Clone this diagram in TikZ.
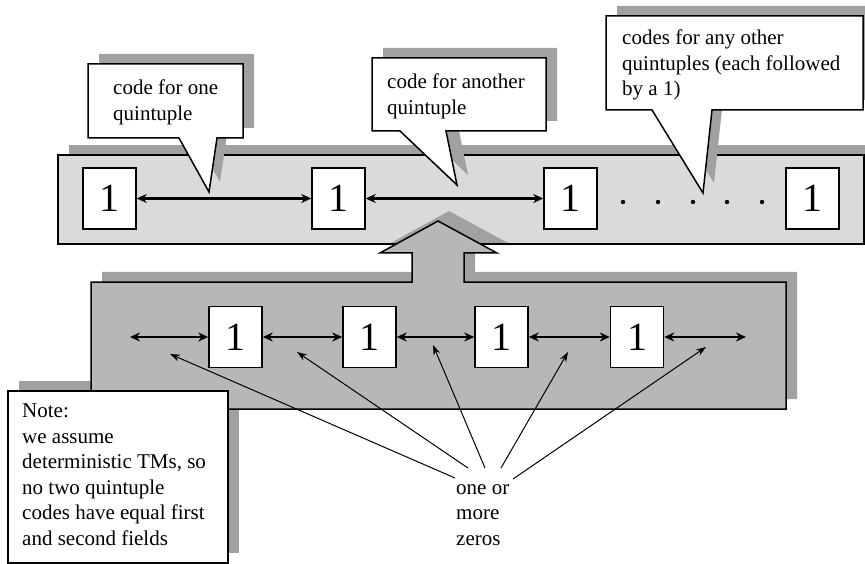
\documentclass[tikz,border=0pt]{standalone}
\usepackage{fontspec}
\setmainfont{Liberation Serif}
\usepackage{tikz}
\usetikzlibrary{arrows.meta, calc}

\definecolor{bandgray}{HTML}{D9DBDA}
\definecolor{panelgray}{HTML}{B6B7B6}
\definecolor{shadegray}{HTML}{A1A1A1}

\tikzstyle{onebox} = [rectangle, draw=black, fill=white, line width=1.5pt, minimum width=53pt, minimum height=61pt, inner sep=0pt, font=\fontsize{40}{40}\selectfont]
\tikzstyle{linkarrow} = [line width=2.5pt, {Stealth[length=10pt,width=9pt]}-{Stealth[length=10pt,width=9pt]}]
\tikzstyle{zeroarrow} = [line width=1pt, -{Stealth[length=10pt,width=7pt]}]
\tikzstyle{rim} = [draw=black, line width=1.5pt]
\tikzstyle{calltext} = [anchor=north west, inner sep=0pt, align=left, font=\fontsize{21}{25.5}\selectfont]

\begin{document}
\begin{tikzpicture}[x=1pt, y=-1pt]
    \useasboundingbox (0,0) rectangle (865,564);

    % upper tape
    \fill[shadegray] (69,145) rectangle (876,234);
    \draw[rim, fill=bandgray] (58,155) rectangle (864,244);

    % shadow of the note (it sits behind the lower panel)
    \fill[shadegray] (19,381) rectangle (239,553);

    % lower panel with the arrow going up
    \fill[shadegray, shift={(11,-10)}] (91,282) -- (412,282) -- (412,253) -- (380,253) -- (438,221) -- (497,253) -- (464,253) -- (464,282) -- (786,282) -- (786,409) -- (91,409) -- cycle;
    \draw[rim, fill=panelgray] (91,282) -- (412,282) -- (412,253) -- (380,253) -- (438,221) -- (497,253) -- (464,253) -- (464,282) -- (786,282) -- (786,409) -- (91,409) -- cycle;

    % callouts
    \fill[shadegray, shift={(11,-10)}] (88,64) -- (243,64) -- (243,138) -- (217,138) -- (209,192) -- (179,138) -- (88,138) -- cycle;
    \draw[rim, fill=white] (88,64) -- (243,64) -- (243,138) -- (217,138) -- (209,192) -- (179,138) -- (88,138) -- cycle;
    \fill[shadegray, shift={(11,-10)}] (372,58) -- (546,58) -- (546,131) -- (446,131) -- (457,185) -- (400,131) -- (372,131) -- cycle;
    \draw[rim, fill=white] (372,58) -- (546,58) -- (546,131) -- (446,131) -- (457,185) -- (400,131) -- (372,131) -- cycle;
    \fill[shadegray, shift={(11,-10)}] (606,16) -- (863,16) -- (863,110) -- (712,110) -- (703,193) -- (652,110) -- (606,110) -- cycle;
    \draw[rim, fill=white] (606,16) -- (863,16) -- (863,110) -- (712,110) -- (703,193) -- (652,110) -- (606,110) -- cycle;

    \node (cone) [calltext] at (113,80) {code for one\\quintuple};
    \node (ctwo) [calltext] at (387,74) {code for another\\quintuple};
    \node (cthree) [calltext] at (622,30) {codes for any other\\quintuples (each followed\\by a 1)};

    % the quintuple codes, each ended by a 1
    \node (t1) [onebox] at (109.5,198.5) {1};
    \node (t2) [onebox] at (338.5,198.5) {1};
    \node (t3) [onebox] at (570.5,198.5) {1};
    \node (t4) [onebox] at (812.5,198.5) {1};
    \draw [linkarrow] (t1) -- (t2);
    \draw [linkarrow] (t2) -- (t3);
    \foreach \x in {623,658,693,727,762}
        \fill (\x,202) circle (2.2);

    % one code, its fields split by 1s
    \coordinate (zl) at (130,337);
    \coordinate (zr) at (746,337);
    \node (b1) [onebox] at (235.5,337) {1};
    \node (b2) [onebox] at (369.5,337) {1};
    \node (b3) [onebox] at (501.5,337) {1};
    \node (b4) [onebox] at (637,337) {1};
    \draw [linkarrow] (zl) -- (b1);
    \draw [linkarrow] (b1) -- (b2);
    \draw [linkarrow] (b2) -- (b3);
    \draw [linkarrow] (b3) -- (b4);
    \draw [linkarrow] (b4) -- (zr);

    % note box
    \draw[rim, fill=white] (8,391) rectangle (228,563);
    \node (nb) [calltext] at (22,404) {Note:\\we assume\\deterministic TMs, so\\no two quintuple\\codes have equal first\\and second fields};

    % zeros label and its pointers
    \node (zeros) [calltext] at (456,484) {one or\\more\\zeros};
    \coordinate (s1) at (455,478);
    \coordinate (s2) at (468,468);
    \coordinate (s3) at (485,468);
    \coordinate (s4) at (501,468);
    \coordinate (s5) at (513,479);
    \coordinate (e1) at (170,354);
    \coordinate (e2) at (297,352);
    \coordinate (e3) at (433,345);
    \coordinate (e4) at (568,352);
    \coordinate (e5) at (706,347);
    \foreach \i in {1,...,5}
        \draw [zeroarrow] (s\i) -- (e\i);
\end{tikzpicture}
\end{document}
